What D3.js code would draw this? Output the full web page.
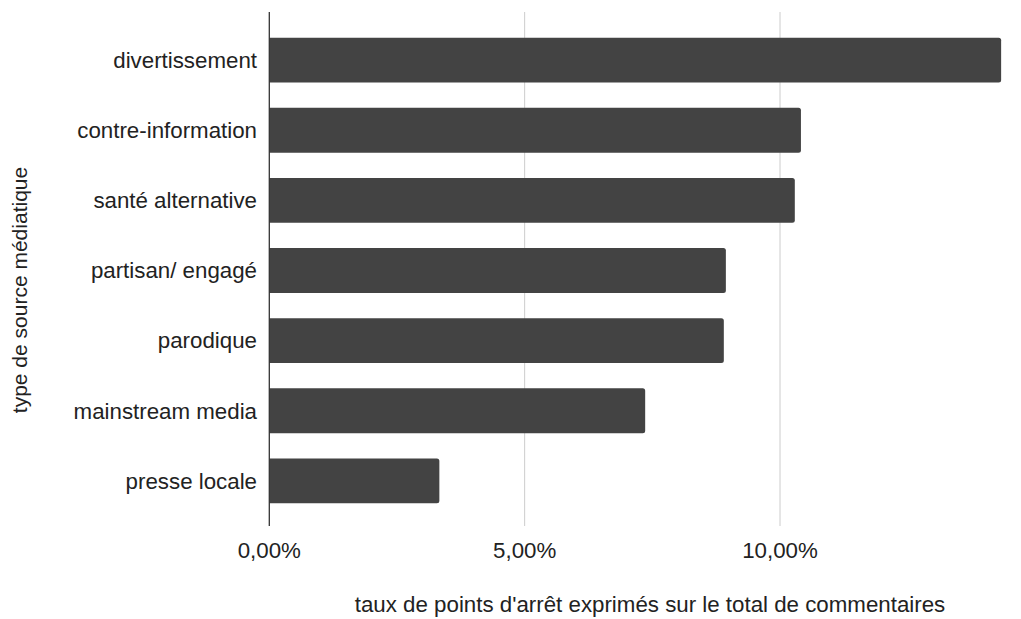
<!DOCTYPE html>
<html>
<head>
<meta charset="utf-8">
<script src="https://cdn.jsdelivr.net/npm/d3@7"></script>
<style>
  html, body { margin: 0; padding: 0; background: #fff; }
  svg { display: block; }
  text { font-family: "Liberation Sans", Arial, sans-serif; fill: #222; }
</style>
</head>
<body>
<svg id="chart" width="1021" height="619"></svg>
<script>
const categories = ["divertissement", "contre-information", "santé alternative", "partisan/ engagé", "parodique", "mainstream media", "presse locale"];
const values = [0.1433, 0.1041, 0.1029, 0.0894, 0.0890, 0.0736, 0.0333];
const tickValues = [0, 0.05, 0.10];
const tickLabels = ["0,00%", "5,00%", "10,00%"];
const xTitle = "taux de points d'arrêt exprimés sur le total de commentaires";
const yTitle = "type de source médiatique";

const svg = d3.select("#chart");
const x0 = 269.3, plotTop = 12, plotBottom = 526;
const x = d3.scaleLinear().domain([0, 0.10]).range([x0, 780]);
const y = d3.scaleBand().domain(categories).range([25, 516]).paddingInner(0.36).paddingOuter(0.18);
const fs = 22.3;

// gridlines
svg.append("g").selectAll("line").data(tickValues.filter(d => d > 0)).join("line")
  .attr("x1", d => x(d)).attr("x2", d => x(d))
  .attr("y1", plotTop).attr("y2", plotBottom)
  .attr("stroke", "#cccccc").attr("stroke-width", 1);

// bars with rounded right corners
const r = 2.5;
svg.append("g").selectAll("path").data(categories).join("path")
  .attr("d", (c, i) => {
    const xs = x(0), xe = x(values[i]), yt = y(c), h = y.bandwidth();
    return `M${xs},${yt} H${xe - r} Q${xe},${yt} ${xe},${yt + r} V${yt + h - r} Q${xe},${yt + h} ${xe - r},${yt + h} H${xs} Z`;
  })
  .attr("fill", "#434343");

// axis line
svg.append("line").attr("x1", x0).attr("x2", x0).attr("y1", plotTop).attr("y2", plotBottom)
  .attr("stroke", "#333").attr("stroke-width", 1.3);

// y labels
svg.append("g").selectAll("text").data(categories).join("text")
  .attr("x", 257).attr("y", c => y(c) + y.bandwidth() / 2)
  .attr("dy", "0.35em").attr("text-anchor", "end")
  .attr("font-size", fs).text(c => c);

// x tick labels
svg.append("g").selectAll("text").data(tickValues).join("text")
  .attr("x", d => x(d)).attr("y", 558)
  .attr("text-anchor", "middle").attr("font-size", fs)
  .text((d, i) => tickLabels[i]);

// x title
svg.append("text").attr("x", 650).attr("y", 612).attr("text-anchor", "middle")
  .attr("font-size", fs).text(xTitle);

// y title
svg.append("text").attr("transform", "translate(27,290) rotate(-90)")
  .attr("text-anchor", "middle").attr("font-size", 21).text(yTitle);
</script>
</body>
</html>
